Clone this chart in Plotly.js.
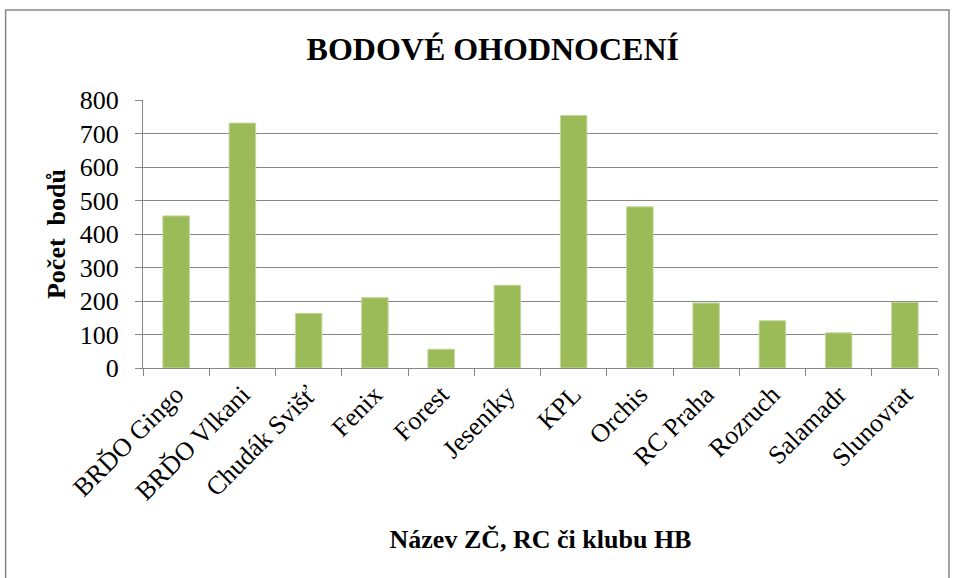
<!DOCTYPE html>
<html>
<head>
<meta charset="utf-8">
<script src="https://cdn.plot.ly/plotly-3.0.1.min.js"></script>
<style>html,body{margin:0;padding:0;background:#fff;}#chart{width:955px;height:578px;}</style>
</head>
<body>
<div id="chart"></div>
<script>
const categories = ["BRĎO Gingo","BRĎO Vlkani","Chudák Svišť","Fenix","Forest","Jeseníky","KPL","Orchis","RC Praha","Rozruch","Salamadr","Slunovrat"];
const points = [454,731,163,210,56,247,754,481,194,141,105,196];
const yTicks = [0,100,200,300,400,500,600,700,800];

const font = "Liberation Serif";
const gray = "#868686";

const trace = {
  type: "bar",
  x: categories,
  y: points,
  marker: {color: "#9BBB59", line: {color: "#c3d69b", width: 1}},
  hoverinfo: "x+y"
};

const layout = {
  width: 955, height: 578,
  margin: {l: 142.5, r: 17, t: 100, b: 210},
  paper_bgcolor: "#fff", plot_bgcolor: "#fff",
  bargap: 0.6,
  showlegend: false,
  font: {family: font, color: "#000"},
  title: {text: "<b>BODOVÉ OHODNOCENÍ</b>", font: {family: font, size: 32, color: "#000"},
          xref: "container", x: 0.516, xanchor: "center", yref: "container", y: 0.916, yanchor: "middle"},
  xaxis: {
    type: "category",
    tickangle: -45,
    tickfont: {family: font, size: 26, color: "#000"},
    showline: true, linecolor: gray, linewidth: 1,
    ticks: "outside", tickson: "boundaries", ticklen: 7, tickcolor: gray,
    showgrid: false, automargin: false,
    title: {text: "<b>Název ZČ, RC či klubu HB</b>", font: {family: font, size: 26, color: "#000"}, standoff: 24}
  },
  yaxis: {
    range: [0, 800],
    tickvals: yTicks,
    tickfont: {family: font, size: 26, color: "#000"},
    showline: true, linecolor: gray, linewidth: 1,
    ticks: "outside", ticklen: 7, tickcolor: gray, ticklabelstandoff: 11,
    showgrid: true, gridcolor: gray, gridwidth: 1,
    zeroline: false, automargin: false,
    title: {text: "<b>Počet  bodů</b>", font: {family: font, size: 26, color: "#000"}, standoff: 6}
  },
  shapes: [{
    type: "rect", xref: "paper", yref: "paper",
    x0: -0.1728, x1: 1.0138, y0: -0.80, y1: 1.3358,
    line: {color: gray, width: 1.5}, fillcolor: "rgba(0,0,0,0)", layer: "below"
  }]
};

Plotly.newPlot("chart", [trace], layout, {displayModeBar: false, staticPlot: true});
</script>
</body>
</html>
